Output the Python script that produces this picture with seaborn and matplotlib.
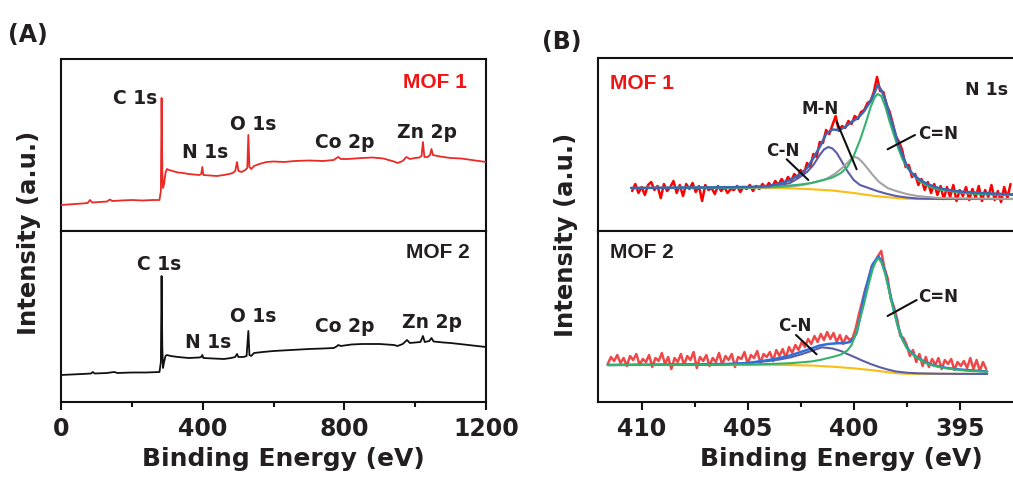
import numpy as np
import pandas as pd
import matplotlib
matplotlib.use("Agg")
import matplotlib.pyplot as plt
import seaborn as sns

sns.set_style("ticks")
plt.rcParams["font.family"] = ["DejaVu Sans"]
plt.rcParams["font.weight"] = "bold"
plt.rcParams["axes.linewidth"] = 1.5

TXT = "#231f20"
ARIAL = ["Liberation Sans", "DejaVu Sans"]

# ---------------- Panel A: survey spectra (binding energy eV, intensity a.u.) ----------------
survey1_ev = [0, 20, 40, 60, 75, 82, 88, 110, 130, 138, 145, 170, 200, 230, 260, 278, 282, 284, 286, 288,
              291, 295, 299, 305, 315, 330, 345, 360, 375, 390, 396, 399, 402, 420, 440, 460, 475, 485, 492,
              497, 501, 510, 520, 526, 529, 532, 537, 545, 560, 580, 600, 630, 660, 700, 740, 770, 778, 783,
              790, 810, 850, 880, 910, 940, 950, 965, 975, 985, 1000, 1012, 1018, 1022, 1026, 1035, 1042,
              1046, 1050, 1070, 1100, 1130, 1160, 1200]
survey1_int = [26, 26.5, 27, 27.5, 28, 31, 28.5, 29, 29.5, 31.5, 30, 30.5, 31, 30.5, 31, 31, 40, 133, 60, 43,
               47, 58, 62, 61, 60, 58.5, 58, 57, 56.5, 56, 57, 64, 56, 55.5, 55, 56, 57, 58, 60,
               69, 60, 59, 61, 63, 96, 64, 62, 65, 67, 69, 69.5, 69, 70, 70.5, 70, 71, 73, 74,
               72, 72, 73, 73.5, 72.5, 69.5, 68, 70, 74, 72, 73, 73.5, 75, 89, 74, 74, 76,
               82, 76, 74.5, 73, 72.5, 71, 69]

survey2_ev = [0, 30, 60, 85, 90, 95, 130, 150, 160, 200, 240, 278, 282, 284, 286, 288, 291, 295, 299, 310,
              330, 360, 390, 396, 399, 402, 430, 460, 480, 492, 497, 501, 515, 524, 529, 532, 537, 545, 570,
              600, 650, 700, 740, 770, 778, 783, 790, 820, 850, 900, 940, 950, 965, 977, 985, 1000, 1015,
              1022, 1027, 1040, 1046, 1052, 1080, 1100, 1150, 1200]
survey2_int = [27, 27.5, 28, 28.5, 30, 28.5, 29, 30, 29, 29.5, 29.5, 30, 40, 126, 55, 34, 40, 46, 47, 46,
               45, 44, 44.5, 45, 47, 44, 43.5, 43, 44, 45, 48, 45, 45, 46, 71, 47, 46, 49, 50,
               51, 52, 53, 53.5, 54, 55.5, 57, 56, 57.5, 58, 58, 57, 56, 58, 62, 59, 59.5, 60,
               66, 60, 61, 64, 60.5, 59.5, 59, 57, 55]

survey_ticks = [0, 400, 800, 1200]
survey_minor = [200, 600, 1000]
peak_labels = ["C 1s", "N 1s", "O 1s", "Co 2p", "Zn 2p"]
peak_lab_ev_1 = [209, 407, 543, 802, 1033]
peak_lab_int_1 = [132, 78, 106, 88, 99]
peak_lab_ev_2 = [277, 416, 543, 802, 1048]
peak_lab_int_2 = [137, 60, 86, 75, 79]

# ---------------- Panel B: N 1s high-resolution spectra ----------------
# MOF 1 raw data (start energy, step) and intensities
n1s_1_start, n1s_1_step = 410.45, 0.15
n1s_1_raw = [40, 47, 38, 44, 36, 46, 49, 41, 45, 33, 47, 40, 44, 50, 38, 46, 35, 47, 42, 48,
             39, 45, 30, 46, 41, 43, 37, 45, 40, 44, 38, 42, 41, 45, 39, 44, 42, 46, 40, 45,
             42, 47, 43, 48, 44, 50, 46, 52, 47, 54, 50, 57, 53, 61, 57, 68, 64, 77, 74, 89,
             88, 101, 97, 106, 115, 100, 105, 103, 110, 107, 115, 112, 119, 121, 128, 130, 139, 154, 140, 139,
             126, 119, 107, 94, 89, 80, 64, 66, 54, 57, 46, 52, 41, 49, 38, 47, 36, 45, 32, 44,
             34, 46, 30, 41, 35, 44, 31, 42, 33, 45, 30, 41, 34, 46, 31, 40, 29, 44, 33, 47]

bg1_ev = [410.5, 403.5, 403.0, 402.0, 401.0, 400.0, 399.0, 398.0, 397.5, 397.0, 392.3]
bg1_int = [43, 43, 42.7, 41.8, 40.5, 38, 35, 33, 32.3, 32, 32]

cn1_ev = [410.5, 405, 404, 403.5, 403, 402.6, 402.2, 401.9, 401.6, 401.4, 401.2, 401.0, 400.8, 400.6,
          400.3, 400.0, 399.7, 399.3, 398.9, 398.5, 398.0, 397.5, 397.0, 396.0, 392.3]
cn1_int = [43, 43.5, 44.5, 46, 48, 53, 59, 66, 76, 81.5, 84, 82.5, 78, 71,
           60, 51, 46, 43, 40, 37.5, 35, 33.5, 32.5, 32, 32]

mn1_ev = [410.5, 404, 403, 402.4, 401.8, 401.3, 400.9, 400.6, 400.3, 400.1, 399.95, 399.8, 399.6,
          399.4, 399.1, 398.8, 398.4, 398.0, 397.5, 397.0, 396.5, 396.0, 392.3]
mn1_int = [43, 43.5, 44.5, 46, 49, 52, 57, 62, 68, 72.5, 74, 73, 69,
           64, 56, 49, 43, 40, 37, 35, 34, 33, 32]

cdn1_ev = [410.5, 405, 404, 403.5, 403, 402.5, 402, 401.5, 401, 400.6, 400.3, 400.0, 399.7, 399.4,
           399.2, 399.0, 398.87, 398.7, 398.5, 398.3, 398.1, 397.9, 397.7, 397.5, 397.2, 396.9,
           396.5, 396.0, 395.5, 395.0, 394.5, 394.0, 393.0, 392.3]
cdn1_int = [43, 43.5, 44, 44.5, 45.5, 46.5, 48, 50.5, 53.5, 58, 64, 75, 91, 110,
            124, 134, 137, 135, 124, 109, 96, 83, 72, 64, 56, 50,
            45, 41.5, 40, 38.5, 37.5, 37, 36, 36]

env1_ev = [410.5, 407, 405, 404.4, 404.0, 403.5, 403.0, 402.5, 402.2, 401.9, 401.6, 401.3, 401.0,
           400.7, 400.4, 400.1, 399.8, 399.5, 399.2, 399.0, 398.87, 398.7, 398.5, 398.3, 398.1, 397.9,
           397.7, 397.5, 397.3, 397.0, 396.7, 396.4, 396.0, 395.5, 395.0, 394.0, 393.0, 392.3]
env1_int = [43, 43.5, 44, 44.5, 45, 47.5, 51, 57, 63, 73, 84, 97, 101.5,
            101, 104, 109, 113, 120, 130, 139, 146, 141, 131, 116, 102, 88,
            76, 66, 59, 53, 49, 46, 43, 41, 39.5, 38, 37, 36.5]

# MOF 2
n1s_2_start, n1s_2_step = 411.6, 0.15
n1s_2_raw = [38, 45, 41, 47, 39, 44, 36, 46, 42, 48, 37, 43, 40, 47, 35, 44, 41, 49, 38, 45,
             33, 44, 40, 48, 37, 46, 42, 50, 34, 45, 41, 47, 36, 44, 40, 49, 37, 46, 42, 48,
             35, 45, 43, 50, 38, 47, 44, 51, 39, 48, 45, 50, 41, 52, 46, 53, 44, 55, 49, 57,
             52, 60, 55, 63, 58, 66, 60, 68, 62, 70, 63, 69, 60, 67, 58, 66, 62, 64, 74, 88,
             100, 113, 122, 136, 139, 146, 151, 134, 124, 103, 95, 83, 66, 64, 57, 46, 52, 40, 48, 36,
             45, 35, 43, 37, 44, 33, 42, 38, 43, 32, 40, 36, 41, 34, 44, 33, 42, 31, 40, 33]

bg2_ev = [411.6, 403.2, 402.0, 401.0, 400.0, 399.0, 398.0, 397.5, 393.7]
bg2_int = [37, 37, 36.5, 35.3, 33.7, 31.5, 28.8, 28.2, 28]

cn2_ev = [411.6, 407, 406, 405, 404.5, 404, 403.5, 403, 402.5, 402, 401.5, 401.0, 400.6, 400.3,
          400.0, 399.6, 399.2, 398.8, 398.4, 398.0, 397.5, 397.0, 396.0, 393.7]
cn2_int = [37, 37, 37.5, 38.5, 40, 41, 42.5, 44.5, 47.5, 51, 54.7, 53.5, 51, 48,
           45.3, 41.5, 38, 35, 32.5, 30.5, 29.3, 28.7, 28.3, 28]

cdn2_ev = [411.6, 405, 404, 403, 402, 401.6, 401.0, 400.6, 400.3, 400.1, 399.9, 399.7, 399.5, 399.3,
           399.1, 398.95, 398.84, 398.7, 398.5, 398.3, 398.1, 397.9, 397.7, 397.5, 397.3, 397.0,
           396.6, 396.2, 395.6, 395.0, 394.5, 393.7]
cdn2_int = [37, 37.5, 38, 38.8, 40.5, 42, 45, 47.5, 51.5, 57, 68, 83, 99, 117,
            133, 141, 143.7, 140, 127, 108, 90, 74, 62, 54, 49, 44,
            39, 36, 33.5, 32, 31, 30.3]

env2_ev = [411.6, 406, 405, 404.5, 404, 403.5, 403, 402.5, 402, 401.6, 401.2, 400.8, 400.4, 400.17,
           400.0, 399.86, 399.7, 399.55, 399.3, 399.1, 398.84, 398.7, 398.5, 398.3, 398.1, 397.9,
           397.7, 397.5, 397.3, 397.0, 396.6, 396.2, 395.6, 395.0, 393.7]
env2_int = [37, 38, 39, 40.5, 42, 44, 46.5, 50, 53.5, 56.5, 58, 58.7, 59, 60,
            63.5, 69, 84, 103, 124, 138, 145.5, 142, 129, 110, 92, 75,
            63, 55, 49.5, 44.5, 39.5, 36.5, 34, 32.5, 30.5]

n1s_ticks = [410, 405, 400, 395]
n1s_minor = [407.5, 402.5, 397.5]

# ---------------- Figure ----------------
W, H = 1013, 478
fig = plt.figure(figsize=(W / 100, H / 100), dpi=100)

def px_axes(l, t, r, b):
    return fig.add_axes([l / W, 1 - b / H, (r - l) / W, (b - t) / H])

axA1 = px_axes(61, 59, 486, 231)
axA2 = px_axes(61, 231, 486, 402)
axB1 = px_axes(598, 58, 1015, 231)
axB2 = px_axes(598, 231, 1015, 402)

def draw(ax, x, y, color, lw, z):
    sns.lineplot(x=x, y=y, ax=ax, color=color, lw=lw, sort=False,
                 estimator=None, zorder=z, legend=False)

# Panel A
draw(axA1, survey1_ev, survey1_int, "#ea2a25", 1.3, 3)
draw(axA2, survey2_ev, survey2_int, "#111111", 1.3, 3)
for lab, x, y in zip(peak_labels, peak_lab_ev_1, peak_lab_int_1):
    axA1.text(x, y, lab, ha="center", va="center", fontsize=13.5, color=TXT, fontweight="bold")
for lab, x, y in zip(peak_labels, peak_lab_ev_2, peak_lab_int_2):
    axA2.text(x, y, lab, ha="center", va="center", fontsize=13.5, color=TXT, fontweight="bold")
axA1.text(1056, 148, "MOF 1", ha="center", va="center", fontsize=15, color="#f01414",
          fontweight="bold", family=ARIAL)
axA2.text(1065, 150, "MOF 2", ha="center", va="center", fontsize=15, color=TXT,
          fontweight="bold", family=ARIAL)

# Panel B - MOF 1
n1 = len(n1s_1_raw)
n1s_1_ev = np.round(n1s_1_start - n1s_1_step * np.arange(n1), 3)
draw(axB1, n1s_1_ev, n1s_1_raw, "#ff0000", 1.8, 2)
draw(axB1, bg1_ev, bg1_int, "#fbbd14", 1.5, 3)
draw(axB1, cn1_ev, cn1_int, "#5b5ea6", 1.5, 4)
draw(axB1, mn1_ev, mn1_int, "#a3a3a3", 1.5, 4)
draw(axB1, cdn1_ev, cdn1_int, "#35b36e", 1.5, 5)
draw(axB1, env1_ev, env1_int, "#3a68b0", 1.8, 6)

# Panel B - MOF 2
n2 = len(n1s_2_raw)
n1s_2_ev = np.round(n1s_2_start - n1s_2_step * np.arange(n2), 3)
draw(axB2, n1s_2_ev, n1s_2_raw, "#ef4848", 1.8, 2)
draw(axB2, bg2_ev, bg2_int, "#fbbd14", 1.5, 3)
draw(axB2, cn2_ev, cn2_int, "#5b5ea6", 1.5, 4)
draw(axB2, env2_ev, env2_int, "#2f6fd8", 1.8, 5)
draw(axB2, cdn2_ev, cdn2_int, "#35b36e", 1.5, 6)

def annot(ax, text, tx, ty, x0, y0, x1, y1, fs=12):
    ax.text(tx, ty, text, ha="center", va="center", fontsize=fs, color=TXT, fontweight="bold", zorder=9)
    ax.plot([x0, x1], [y0, y1], color="#111111", lw=1.5, zorder=9)

annot(axB1, "C-N", 403.32, 80, 403.16, 71.7, 402.14, 51)
annot(axB1, "M-N", 401.59, 122, 400.8, 109.3, 399.86, 61.7)
annot(axB1, "C=N", 396.01, 96.7, 397.11, 96, 398.4, 81.7)
axB1.text(393.73, 141, "N 1s", ha="center", va="center", fontsize=12.5, color=TXT, fontweight="bold")
axB1.text(410.0, 147.7, "MOF 1", ha="center", va="center", fontsize=15, color="#f01414",
          fontweight="bold", family=ARIAL)

annot(axB2, "C-N", 402.77, 76, 402.72, 67, 401.75, 47.7)
annot(axB2, "C=N", 396.01, 105.3, 397.03, 102, 398.4, 86)
axB2.text(410.0, 149.7, "MOF 2", ha="center", va="center", fontsize=15, color=TXT,
          fontweight="bold", family=ARIAL)

# Axes styling
for ax in (axA1, axA2):
    ax.set_xlim(0, 1200)
for ax in (axB1, axB2):
    ax.set_xlim(412.06, 412.06 - 417 / 21.2)
axA1.set_ylim(0, 172)
axA2.set_ylim(0, 171)
axB1.set_ylim(0, 173)
axB2.set_ylim(0, 171)

for ax in (axA1, axA2, axB1, axB2):
    ax.set_yticks([])
    ax.set_xlabel("")
    ax.set_ylabel("")
    for s in ax.spines.values():
        s.set_visible(True)
        s.set_linewidth(1.5)
        s.set_color("#111111")
for ax in (axA1, axB1):
    ax.set_xticks([])

axA2.set_xticks(survey_ticks)
axA2.set_xticks(survey_minor, minor=True)
axA2.set_xticklabels([str(t) for t in survey_ticks])
axB2.set_xticks(n1s_ticks)
axB2.set_xticks(n1s_minor, minor=True)
axB2.set_xticklabels([str(t) for t in n1s_ticks])
for ax in (axA2, axB2):
    ax.tick_params(axis="x", which="major", direction="out", length=6, width=1.5,
                   labelsize=17, pad=5, colors="#111111", labelcolor=TXT)
    ax.tick_params(axis="x", which="minor", direction="out", length=3.5, width=1.5, colors="#111111")
    for lab in ax.get_xticklabels():
        lab.set_fontweight("bold")

fig.text(283.5 / W, 1 - 459 / H, "Binding Energy (eV)", ha="center", va="center",
         fontsize=18, color=TXT, fontweight="bold")
fig.text(841 / W, 1 - 459 / H, "Binding Energy (eV)", ha="center", va="center",
         fontsize=18, color=TXT, fontweight="bold")
fig.text(29 / W, 1 - 233 / H, "Intensity (a.u.)", ha="center", va="center", rotation=90,
         fontsize=17.5, color=TXT, fontweight="bold")
fig.text(566 / W, 1 - 235 / H, "Intensity (a.u.)", ha="center", va="center", rotation=90,
         fontsize=17.5, color=TXT, fontweight="bold")
fig.text(28 / W, 1 - 35 / H, "(A)", ha="center", va="center", fontsize=17, color=TXT, fontweight="bold")
fig.text(562 / W, 1 - 42 / H, "(B)", ha="center", va="center", fontsize=17, color=TXT, fontweight="bold")

fig.savefig("out.png", dpi=100, facecolor="white")
